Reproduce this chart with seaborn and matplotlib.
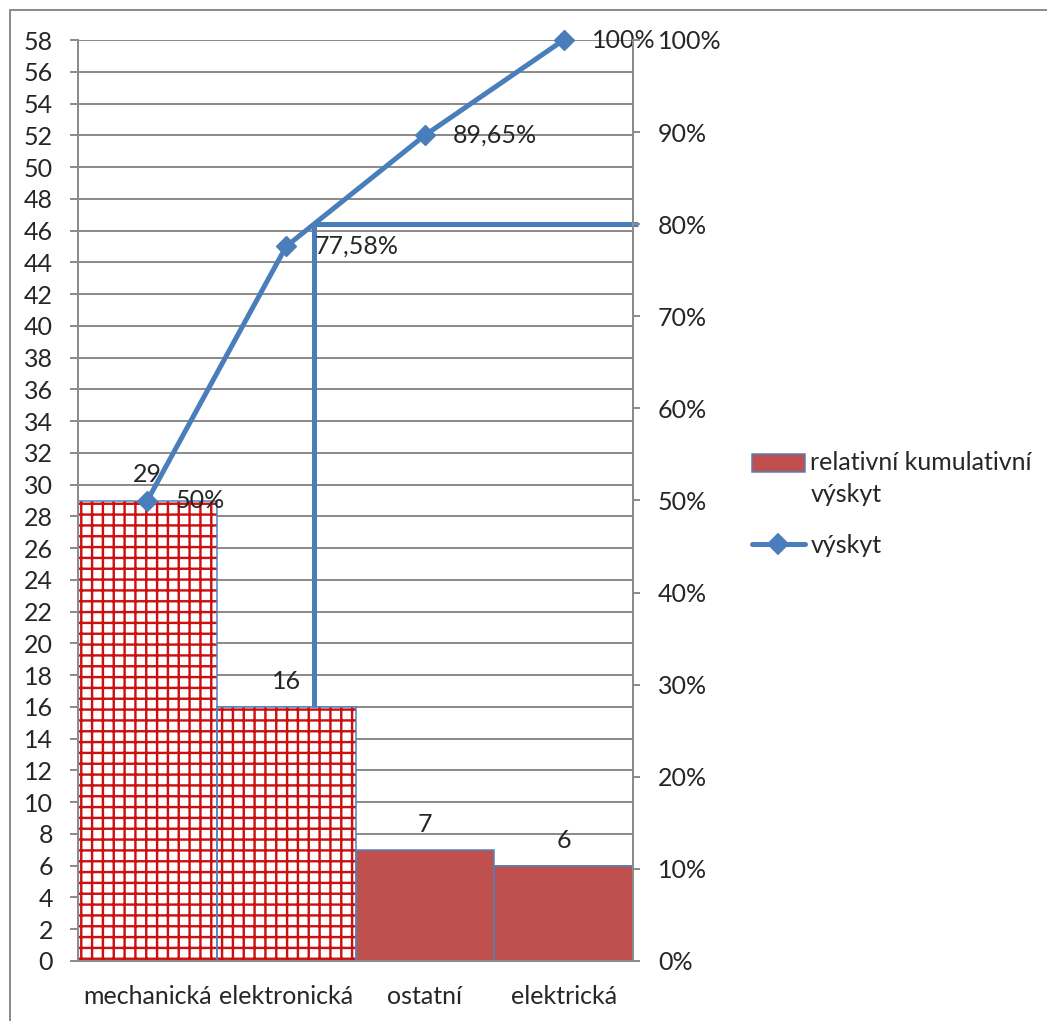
import numpy as np
import pandas as pd
import matplotlib
matplotlib.use("Agg")
import matplotlib.pyplot as plt
import matplotlib.patches as mpatches
from matplotlib.lines import Line2D
from matplotlib.legend_handler import HandlerPatch
from matplotlib.ticker import PercentFormatter
import seaborn as sns

# ---- data -------------------------------------------------------------
categories = ["mechanická", "elektronická", "ostatní", "elektrická"]
counts = [29, 16, 7, 6]
cum_labels = ["50%", "77,58%", "89,65%", "100%"]
pct_ticks = [0, 10, 20, 30, 40, 50, 60, 70, 80, 90, 100]
bar_name = "relativní kumulativní\nvýskyt"
line_name = "výskyt"
threshold = 0.8

# ---- style ------------------------------------------------------------
DPI = 130
PT = 72 / DPI          # points per output pixel
W, H = 1047, 1021

BAR_RED = "#C0504D"
HATCH_RED = "#CC1010"
EDGE_BLUE = "#4F81BD"
LINE_BLUE = "#4A7EBB"
GREY = "#8C8C8C"
FS = 25 * PT

sns.set_style("white")
plt.rcParams["font.family"] = ["Lato", "DejaVu Sans"]
plt.rcParams["hatch.linewidth"] = 2.4 * PT

df = pd.DataFrame({"kategorie": categories, "pocet": counts})
total = df["pocet"].sum()
df["kumulativni"] = df["pocet"].cumsum()
df["podil"] = df["kumulativni"] / total
positions = np.arange(len(categories))

fig = plt.figure(figsize=(W / DPI, H / DPI), dpi=DPI)
ax = fig.add_axes([78 / W, 60 / H, 555 / W, 921 / H])

# ---- bars -------------------------------------------------------------
sns.barplot(data=df, x="kategorie", y="pocet", order=categories,
            color=BAR_RED, saturation=1, width=1.0,
            edgecolor=EDGE_BLUE, linewidth=1.5 * PT, ax=ax, zorder=2)

bars = list(ax.containers[0])
for bar, share in zip(bars, df["podil"]):
    if share <= threshold:
        # the "vital few" bars get a red grid pattern on white
        bar.set_facecolor("white")
        bar.set_edgecolor(HATCH_RED)
        bar.set_hatch("++")
        bar.set_linewidth(0)
        ax.add_patch(mpatches.Rectangle(bar.get_xy(), bar.get_width(),
                                        bar.get_height(), fill=False,
                                        edgecolor=EDGE_BLUE,
                                        linewidth=1.5 * PT, zorder=2.5))

ax.bar_label(ax.containers[0], padding=14 * PT, fontsize=FS)

# ---- cumulative line --------------------------------------------------
sns.lineplot(x=positions, y=df["kumulativni"], ax=ax, color=LINE_BLUE,
             linewidth=5 * PT, marker="D", markersize=14 * PT,
             markeredgecolor=LINE_BLUE, zorder=4, legend=False,
             clip_on=False)

for x, y, lab in zip(positions, df["kumulativni"], cum_labels):
    ax.annotate(lab, (x, y), xytext=(28 * PT, 0), textcoords="offset points",
                ha="left", va="center", fontsize=FS, zorder=5,
                annotation_clip=False)

# 80 % reference line
y80 = threshold * total
x80 = np.interp(y80, df["kumulativni"], positions)
bar_below = counts[int(round(x80))]
ax.plot([x80, x80], [bar_below, y80], color=LINE_BLUE, lw=5 * PT,
        zorder=3, solid_capstyle="butt")
ax.plot([x80, len(categories) - 0.5 + 0.036], [y80, y80], color=LINE_BLUE,
        lw=5 * PT, zorder=3, clip_on=False, solid_capstyle="butt")

# ---- axes -------------------------------------------------------------
ax.set_xlim(-0.5, len(categories) - 0.5)
ax.set_ylim(0, total)
ax.set_yticks(np.arange(0, total + 1, 2))
ax.set_xticks(positions, categories)
ax.set_xticks(np.arange(len(categories) + 1) - 0.5, minor=True)
ax.set_xlabel("")
ax.set_ylabel("")
ax.tick_params(axis="x", which="major", length=0, pad=24 * PT, labelsize=FS)
ax.tick_params(axis="x", which="minor", length=8 * PT, width=2 * PT,
               color=GREY, direction="out")
ax.tick_params(axis="y", length=8 * PT, width=2 * PT, color=GREY,
               pad=17 * PT, labelsize=FS, left=True)
ax.yaxis.grid(True, color=GREY, lw=2 * PT)
ax.xaxis.grid(False)
ax.set_axisbelow(True)
for side in ("top", "right"):
    ax.spines[side].set_visible(False)
for side in ("left", "bottom"):
    ax.spines[side].set_color(GREY)
    ax.spines[side].set_linewidth(2 * PT)

ax2 = ax.twinx()
ax2.set_ylim(0, 100)
ax2.set_yticks(pct_ticks)
ax2.yaxis.set_major_formatter(PercentFormatter(100, decimals=0))
ax2.tick_params(axis="y", length=7 * PT, width=2 * PT, color=GREY,
                pad=18 * PT, labelsize=FS, right=True)
ax2.grid(False)
for side in ("top", "left", "bottom"):
    ax2.spines[side].set_visible(False)
ax2.spines["right"].set_color(GREY)
ax2.spines["right"].set_linewidth(2 * PT)

# ---- legend -----------------------------------------------------------
bar_handle = mpatches.Patch(facecolor=BAR_RED, edgecolor=EDGE_BLUE,
                            linewidth=1.5 * PT)
line_handle = Line2D([], [], color=LINE_BLUE, lw=5 * PT, marker="D",
                     markersize=14 * PT)


def first_line_patch(legend, orig_handle, xdescent, ydescent, width,
                     height, fontsize):
    # keep the swatch beside the first line of a wrapped label
    return mpatches.Rectangle((-xdescent, -ydescent + 16.5 * PT),
                              width, height)


leg = fig.legend([bar_handle, line_handle], [bar_name, line_name],
                 loc="upper left", bbox_to_anchor=(739 / W, 1 - 439 / H),
                 frameon=False, fontsize=FS, handlelength=2.15,
                 handletextpad=0.2, labelspacing=1.1, borderpad=0,
                 handler_map={bar_handle: HandlerPatch(patch_func=first_line_patch)})
for t in leg.get_texts():
    t.set_linespacing(1.45)

# ---- outer frame ------------------------------------------------------
fig.add_artist(Line2D([10 / W, 10 / W], [0, 1 - 10 / H],
                      transform=fig.transFigure, color=GREY, lw=2 * PT))
fig.add_artist(Line2D([10 / W, 1], [1 - 10 / H, 1 - 10 / H],
                      transform=fig.transFigure, color=GREY, lw=2 * PT))

fig.savefig("out.png", dpi=DPI)
